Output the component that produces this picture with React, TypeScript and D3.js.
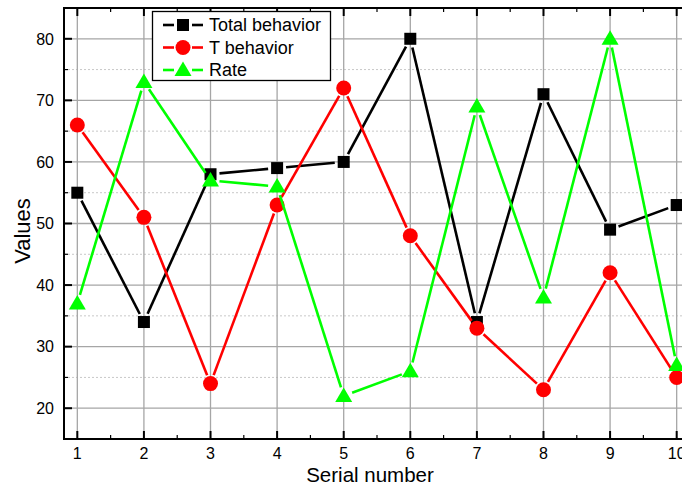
import { useEffect, useRef } from 'react';
import * as d3 from 'd3';

// data
const serials = [1, 2, 3, 4, 5, 6, 7, 8, 9, 10];
const totalBehavior = [55, 34, 58, 59, 60, 80, 34, 71, 49, 53];
const tBehavior = [66, 51, 24, 53, 72, 48, 33, 23, 42, 25];
const rate = [37, 73, 57, 56, 22, 26, 69, 38, 80, 27];
const yTicks = [20, 30, 40, 50, 60, 70, 80];
const yMinor = [25, 35, 45, 55, 65, 75];

const W = 682;
const H = 486;

export default function App() {
  const svgRef = useRef<SVGSVGElement>(null);

  useEffect(() => {
    if (!svgRef.current) return;
    const svg = d3.select(svgRef.current);
    svg.selectAll('*').remove();

    const margin = { top: 8, left: 64, bottom: 439 };
    const x = d3.scaleLinear().domain([0.8, 10.2]).range([margin.left, 690]);
    const y = d3.scaleLinear().domain([15, 85]).range([margin.bottom, margin.top]);
    const font = 'Liberation Sans, Arial, sans-serif';

    const g = svg.append('g');

    // minor horizontal grid (dotted)
    g.selectAll('.minor')
      .data(yMinor)
      .enter().append('line')
      .attr('x1', x(0.8)).attr('x2', x(10.2))
      .attr('y1', d => y(d)).attr('y2', d => y(d))
      .attr('stroke', '#c8c8c8').attr('stroke-width', 1)
      .attr('stroke-dasharray', '2,2');

    // major grid
    g.selectAll('.hgrid')
      .data(yTicks)
      .enter().append('line')
      .attr('x1', x(0.8)).attr('x2', x(10.2))
      .attr('y1', d => y(d)).attr('y2', d => y(d))
      .attr('stroke', '#a6a6a6').attr('stroke-width', 1.3);
    g.selectAll('.vgrid')
      .data(serials)
      .enter().append('line')
      .attr('x1', d => x(d)).attr('x2', d => x(d))
      .attr('y1', y(15)).attr('y2', y(85))
      .attr('stroke', '#a6a6a6').attr('stroke-width', 1.3);

    // axes frame with inward ticks
    const axisG = svg.append('g');
    const tickLen = 8, minorLen = 4;
    serials.forEach(v => {
      axisG.append('line').attr('x1', x(v)).attr('x2', x(v))
        .attr('y1', y(15)).attr('y2', y(15) - tickLen).attr('stroke', '#000').attr('stroke-width', 2);
      axisG.append('line').attr('x1', x(v)).attr('x2', x(v))
        .attr('y1', y(85)).attr('y2', y(85) + tickLen).attr('stroke', '#000').attr('stroke-width', 2);
      if (v < 10) {
        axisG.append('line').attr('x1', x(v + 0.5)).attr('x2', x(v + 0.5))
          .attr('y1', y(15)).attr('y2', y(15) - minorLen).attr('stroke', '#000').attr('stroke-width', 1.2);
        axisG.append('line').attr('x1', x(v + 0.5)).attr('x2', x(v + 0.5))
          .attr('y1', y(85)).attr('y2', y(85) + minorLen).attr('stroke', '#000').attr('stroke-width', 1.2);
      }
    });
    yTicks.forEach(v => {
      axisG.append('line').attr('x1', x(0.8)).attr('x2', x(0.8) + tickLen)
        .attr('y1', y(v)).attr('y2', y(v)).attr('stroke', '#000').attr('stroke-width', 2);
    });
    yMinor.forEach(v => {
      axisG.append('line').attr('x1', x(0.8)).attr('x2', x(0.8) + minorLen)
        .attr('y1', y(v)).attr('y2', y(v)).attr('stroke', '#000').attr('stroke-width', 1.2);
    });
    axisG.append('rect')
      .attr('x', x(0.8)).attr('y', y(85))
      .attr('width', x(10.2) - x(0.8)).attr('height', y(15) - y(85))
      .attr('fill', 'none').attr('stroke', '#000').attr('stroke-width', 2);

    // tick labels
    axisG.selectAll('.xl')
      .data(serials)
      .enter().append('text')
      .attr('x', d => x(d)).attr('y', y(15) + 19.5)
      .attr('text-anchor', 'middle')
      .style('font-family', font).style('font-size', '16px')
      .text(d => d);
    axisG.selectAll('.yl')
      .data(yTicks)
      .enter().append('text')
      .attr('x', x(0.8) - 10).attr('y', d => y(d)).attr('dy', '0.36em')
      .attr('text-anchor', 'end')
      .style('font-family', font).style('font-size', '16px')
      .text(d => d);

    // axis titles
    svg.append('text')
      .attr('x', 370).attr('y', 481.5)
      .attr('text-anchor', 'middle')
      .style('font-family', font).style('font-size', '20.5px')
      .text('Serial number');
    svg.append('text')
      .attr('transform', `translate(30, 231) rotate(-90)`)
      .attr('text-anchor', 'middle')
      .style('font-family', font).style('font-size', '22px')
      .text('Values');

    const series = [
      { name: 'Total behavior', values: totalBehavior, color: '#000000', shape: 'square' },
      { name: 'T behavior', values: tBehavior, color: '#ff0000', shape: 'circle' },
      { name: 'Rate', values: rate, color: '#00ff00', shape: 'triangle' },
    ];

    const gap = 9;
    const drawMarker = (sel: d3.Selection<SVGGElement, unknown, null, undefined>, shape: string, cx: number, cy: number, color: string) => {
      if (shape === 'square') {
        sel.append('rect').attr('x', cx - 6).attr('y', cy - 6).attr('width', 12).attr('height', 12).attr('fill', color);
      } else if (shape === 'circle') {
        sel.append('circle').attr('cx', cx).attr('cy', cy).attr('r', 7.5).attr('fill', color);
      } else {
        sel.append('path')
          .attr('d', `M${cx},${cy - 8.5}L${cx + 8.5},${cy + 6}L${cx - 8.5},${cy + 6}Z`)
          .attr('fill', color);
      }
    };

    series.forEach(s => {
      const sg = svg.append('g');
      const pts = s.values.map((v, i) => [x(serials[i]), y(v)]);
      // line segments with gaps around markers
      for (let i = 0; i < pts.length - 1; i++) {
        const [x0, y0] = pts[i];
        const [x1, y1] = pts[i + 1];
        const len = Math.hypot(x1 - x0, y1 - y0);
        if (len <= gap * 2) continue;
        const ux = (x1 - x0) / len, uy = (y1 - y0) / len;
        sg.append('line')
          .attr('x1', x0 + ux * gap).attr('y1', y0 + uy * gap)
          .attr('x2', x1 - ux * gap).attr('y2', y1 - uy * gap)
          .attr('stroke', s.color).attr('stroke-width', 2.6);
      }
      pts.forEach(([cx, cy]) => drawMarker(sg, s.shape, cx, cy, s.color));
    });

    // legend
    const lg = svg.append('g');
    lg.append('rect')
      .attr('x', 152.5).attr('y', 11.5).attr('width', 178).attr('height', 69)
      .attr('fill', '#fff').attr('stroke', '#000').attr('stroke-width', 1.3);
    series.forEach((s, i) => {
      const cy = 25 + i * 22.5;
      lg.append('line').attr('x1', 163).attr('x2', 174).attr('y1', cy).attr('y2', cy)
        .attr('stroke', s.color).attr('stroke-width', 2.6);
      lg.append('line').attr('x1', 192).attr('x2', 203).attr('y1', cy).attr('y2', cy)
        .attr('stroke', s.color).attr('stroke-width', 2.6);
      drawMarker(lg, s.shape, 183, cy, s.color);
      lg.append('text')
        .attr('x', 209).attr('y', cy).attr('dy', '0.36em')
        .style('font-family', font).style('font-size', '18px')
        .text(s.name);
    });
  }, []);

  return (
    <svg
      ref={svgRef}
      width={W}
      height={H}
      style={{ position: 'fixed', left: 0, top: 0, background: '#fff', overflow: 'hidden' }}
    />
  );
}
